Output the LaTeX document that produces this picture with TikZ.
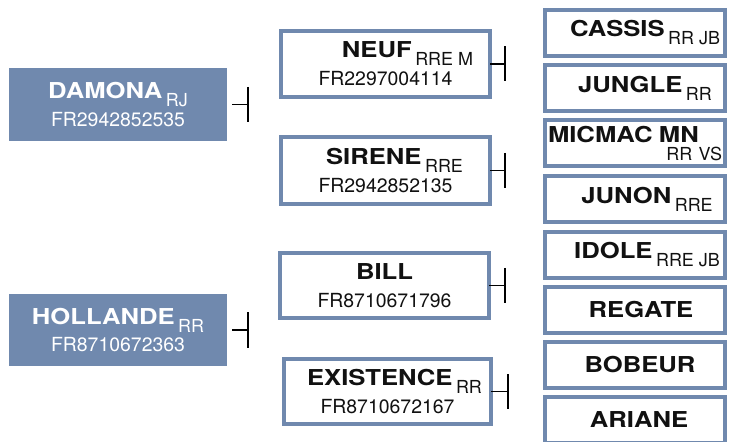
\documentclass[tikz,border=0pt]{standalone}
\usepackage{fontspec}
\setmainfont{TeX Gyre Heros}
\newfontfamily\namefont[FakeStretch=1.17]{TeX Gyre Heros}
\usetikzlibrary{arrows.meta}

% Text helpers
\newcommand{\horse}[1]{{\namefont\bfseries\fontsize{22}{24}\selectfont #1}}
\newcommand{\breed}[1]{\hspace{3.5bp}\raisebox{-8bp}{\fontsize{18}{20}\selectfont #1}}

\begin{document}
\begin{tikzpicture}[x=1bp, y=-1bp,
    box/.style={rectangle, inner sep=0pt, outer sep=0pt, align=center,
        font=\fontsize{19.5}{28}\selectfont},
    darkbox/.style={box, fill=boxColour, text=white, minimum width=218bp, minimum height=73bp},
    lightbox/.style={box, draw=boxColour, line width=4bp, fill=white, text=textColour,
        minimum width=209bp, minimum height=66bp},
    smallbox/.style={lightbox, minimum width=180bp, minimum height=46bp},
    tee/.style={line width=1.6bp, -{Bar[width=35bp]}}]
    % Define colours
    \definecolor{boxColour}{HTML}{7089AE}
    \definecolor{textColour}{HTML}{111111}

    % Fix the frame
    \clip (0,0) rectangle (741,442);

    % Draw the parents
    \node[darkbox] (damona) at (118,104.5) {\horse{DAMONA}\breed{RJ}\\FR2942852535};
    \node[darkbox, minimum height=72bp] (hollande) at (118,330) {\horse{HOLLANDE}\breed{RR}\\FR8710672363};

    % Draw the grandparents
    \node[lightbox] (neuf) at (385.5,64) {\hspace*{44bp}\horse{NEUF}\breed{RRE M}\\FR2297004114};
    \node[lightbox, minimum height=67bp] (sirene) at (385.5,170.5) {\hspace*{18bp}\horse{SIRENE}\breed{RRE}\\FR2942852135};
    \node[lightbox, minimum height=65bp] (bill) at (384.5,285.5) {\horse{BILL}\\FR8710671796};
    \node[lightbox, minimum width=207bp, minimum height=65bp] (existence) at (387.5,391.5) {\hspace*{14bp}\horse{EXISTENCE}\breed{RR}\\FR8710672167};

    % Draw the great-grandparents
    \node[smallbox] (cassis) at (635,33) {\hspace*{20bp}\horse{CASSIS}\breed{RR JB}};
    \node[smallbox] (jungle) at (635,88) {\hspace*{20bp}\horse{JUNGLE}\breed{RR}};
    \node[smallbox, text width=174bp, align=left] (micmac) at (635,143.5) {\horse{MICMAC MN}\\[-10bp]\hspace*{\fill}{\fontsize{18}{20}\selectfont RR VS}};
    \node[smallbox] (junon) at (635,199) {\hspace*{24bp}\horse{JUNON}\breed{RRE}};
    \node[smallbox] (idole) at (635,255) {\hspace*{24bp}\horse{IDOLE}\breed{RRE JB}};
    \node[smallbox] (regate) at (635,310) {\hspace*{12bp}\horse{REGATE}};
    \node[smallbox] (bobeur) at (635,365) {\hspace*{10bp}\horse{BOBEUR}};
    \node[smallbox] (ariane) at (635,420) {\hspace*{8bp}\horse{ARIANE}};

    % Ends of the connectors
    \coordinate (damona-end) at ([xshift=22bp]damona.east);
    \coordinate (hollande-end) at ([xshift=22bp]hollande.east);
    \coordinate (neuf-end) at ([xshift=16bp]neuf.east);
    \coordinate (sirene-end) at ([xshift=16bp]sirene.east);
    \coordinate (bill-end) at ([xshift=17bp]bill.east);
    \coordinate (existence-end) at ([xshift=18bp]existence.east);

    % Draw the connectors
    \draw[tee, shorten <=5bp] (damona.east) -- (damona-end);
    \draw[tee, shorten <=5bp] (hollande.east) -- (hollande-end);
    \foreach \n in {neuf, sirene, bill, existence}
        \draw[tee] (\n.east) -- (\n-end);

\end{tikzpicture}
\end{document}
